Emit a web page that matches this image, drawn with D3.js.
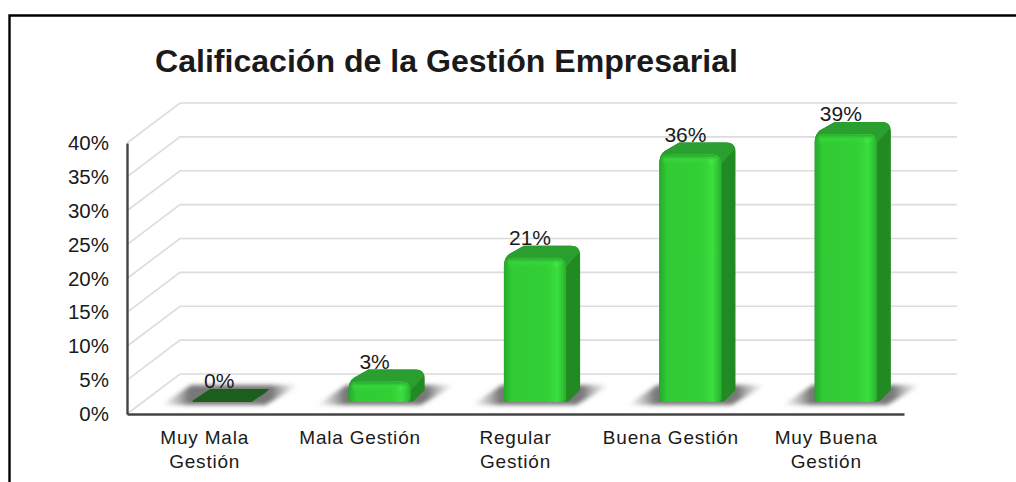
<!doctype html>
<html lang="en">
    <head>
        <meta charset="UTF-8">
        <title>Calificación de la Gestión Empresarial</title>
        <style>
            html, body { margin: 0; padding: 0; background: #fff; overflow: hidden; }
            text { font-family: "Liberation Sans", Arial, sans-serif; fill: #1a1a1a; }
        </style>
    </head>
    <body>
        <script src="https://d3js.org/d3.v7.min.js"></script>
        <script>
            var categories = [["Muy Mala", "Gestión"], ["Mala Gestión"], ["Regular", "Gestión"], ["Buena Gestión"], ["Muy Buena", "Gestión"]];
            var values = [0, 3, 21, 36, 39];
            var tickValues = [0, 5, 10, 15, 20, 25, 30, 35, 40];

            var width = 1016,
                height = 482,
                depthX = 14,
                depthY = 12;

            var svg = d3.select("body").append("svg")
                .attr("width", width)
                .attr("height", height)
                .style("display", "block");

            var defs = svg.append("defs");

            var faceGrad = defs.append("linearGradient").attr("id", "face");
            [[0, "#27a82b"], [0.12, "#30ca34"], [0.68, "#31cf35"], [0.86, "#3ade3e"], [1, "#2ab02e"]].forEach(function(s) {
                faceGrad.append("stop").attr("offset", s[0]).attr("stop-color", s[1]);
            });

            var shineGrad = defs.append("linearGradient").attr("id", "shine").attr("x1", 0).attr("x2", 0).attr("y1", 0).attr("y2", 1);
            [[0, "#2aa52e", 0.9], [0.4, "#38d83c", 0.8], [1, "#31cf35", 0]].forEach(function(s) {
                shineGrad.append("stop").attr("offset", s[0]).attr("stop-color", s[1]).attr("stop-opacity", s[2]);
            });

            var spotGrad = defs.append("radialGradient").attr("id", "spot");
            [[0, "#48e84c", 1], [1, "#3ade3e", 0]].forEach(function(s) {
                spotGrad.append("stop").attr("offset", s[0]).attr("stop-color", s[1]).attr("stop-opacity", s[2]);
            });

            var shadowGrad = defs.append("linearGradient").attr("id", "shadow");
            [[0, "#aaa", 0.05], [0.2, "#6a6a6a", 0.9], [0.8, "#6a6a6a", 0.9], [1, "#aaa", 0]].forEach(function(s) {
                shadowGrad.append("stop").attr("offset", s[0]).attr("stop-color", s[1]).attr("stop-opacity", s[2]);
            });

            defs.append("filter").attr("id", "blur")
                .attr("x", "-20%").attr("y", "-40%").attr("width", "140%").attr("height", "180%")
                .append("feGaussianBlur").attr("stdDeviation", 2);

            defs.append("filter").attr("id", "soft")
                .attr("x", "-5%").attr("y", "-5%").attr("width", "110%").attr("height", "110%")
                .append("feGaussianBlur").attr("stdDeviation", 0.5);

            // frame, open on the right and at the bottom
            svg.append("path")
                .attr("d", "M9.5," + height + "V15.5H" + width)
                .attr("fill", "none")
                .attr("stroke", "#000")
                .attr("stroke-width", 2.4);

            svg.append("text")
                .attr("x", 155)
                .attr("y", 72)
                .attr("font-size", 31)
                .attr("font-weight", "bold")
                .attr("textLength", 583)
                .attr("lengthAdjust", "spacingAndGlyphs")
                .text("Calificación de la Gestión Empresarial");

            var x = d3.scaleBand().domain(d3.range(categories.length)).range([127, 904]);
            var y = d3.scaleLinear().domain([0, 40]).range([414, 143]);
            // bars sit further back on the floor, so they get their own scale
            var yBar = d3.scaleLinear().domain([0, 40]).range([402, 127]);

            // grid: side wall + back wall
            var grid = svg.append("g").attr("fill", "none").attr("stroke", "#dcdcdc").attr("stroke-width", 1.6);
            grid.selectAll("path")
                .data(tickValues)
                .enter()
                .append("path")
                    .attr("d", function(d) {
                        return "M127," + y(d) + "L180," + (y(d) - 40) + "H957";
                    });

            var barWidth = x.bandwidth() * 0.4;

            function barLeft(i) {
                return x(i) + x.bandwidth() / 2 + 19.5 - barWidth / 2;
            }

            // floor shadows
            svg.append("g").selectAll("path")
                .data(values)
                .enter()
                .append("path")
                    .attr("fill", "url(#shadow)")
                    .attr("filter", "url(#blur)")
                    .attr("d", function(d, i) {
                        var l = barLeft(i), b = yBar(0);
                        return "M" + (l - 32) + "," + (b + 3) + "L" + (l - 2) + "," + (b - 17) +
                            "H" + (l + barWidth + 44) + "L" + (l + barWidth + 10) + "," + (b + 3) + "Z";
                    });

            var bars = svg.append("g").attr("filter", "url(#soft)").selectAll("g")
                .data(values)
                .enter()
                .append("g");

            function outline(l, t, b, r) {
                var rr = l + barWidth;
                return "M" + l + "," + (b - 2) +
                    "V" + (t + r) +
                    "Q" + l + "," + t + " " + (l + r * 0.6) + "," + (t - r * 0.4) +
                    "L" + (l + depthX + 6) + "," + (t - depthY) +
                    "H" + (rr + depthX - r) +
                    "Q" + (rr + depthX) + "," + (t - depthY) + " " + (rr + depthX) + "," + (t - depthY + r) +
                    "V" + (b - depthY) +
                    "L" + (rr + 3) + "," + (b - 1) +
                    "Q" + rr + "," + b + " " + (rr - 4) + "," + b +
                    "H" + (l + 2) +
                    "Q" + l + "," + b + " " + l + "," + (b - 2) + "Z";
            }

            function topFace(l, t, r) {
                var rr = l + barWidth;
                return "M" + l + "," + (t + r) +
                    "Q" + l + "," + t + " " + (l + r * 0.6) + "," + (t - r * 0.4) +
                    "L" + (l + depthX + 6) + "," + (t - depthY) +
                    "H" + (rr + depthX - r) +
                    "Q" + (rr + depthX - 1) + "," + (t - depthY) + " " + (rr + depthX - 1) + "," + (t - depthY + r - 2) +
                    "L" + rr + "," + (t + r) + "Z";
            }

            function frontFace(l, t, b, r) {
                var rr = l + barWidth;
                return "M" + l + "," + (b - 2) +
                    "V" + (t + r) +
                    "Q" + l + "," + t + " " + (l + r) + "," + t +
                    "H" + (rr - r) +
                    "Q" + rr + "," + t + " " + rr + "," + (t + r) +
                    "V" + (b - 4) +
                    "Q" + rr + "," + b + " " + (rr - 4) + "," + b +
                    "H" + (l + 2) +
                    "Q" + l + "," + b + " " + l + "," + (b - 2) + "Z";
            }

            bars.each(function(d, i) {
                var g = d3.select(this),
                    l = barLeft(i),
                    t = yBar(d),
                    b = yBar(0);

                if (d === 0) {
                    // empty bar: only the dark floor tile
                    g.append("path")
                        .attr("fill", "#1a5e1a")
                        .attr("d", "M" + (l - 1) + "," + (b - 1) + "L" + (l + depthX + 3) + "," + (b - depthY - 1) +
                            "H" + (l + barWidth + depthX) + "L" + (l + barWidth + depthX - 4) + "," + (b - depthY + 3) +
                            "L" + (l + barWidth - 4) + "," + b + "H" + l + "Z");
                    return;
                }

                var r = 9;
                g.append("path").attr("fill", "#238a23").attr("d", outline(l, t, b, r));
                g.append("path").attr("fill", "#2c9e2f").attr("d", topFace(l, t, r));
                g.append("path").attr("fill", "url(#face)").attr("d", frontFace(l, t, b, r));
                g.append("rect")
                    .attr("x", l + 4)
                    .attr("y", t + 0.5)
                    .attr("width", barWidth - 8)
                    .attr("height", 11)
                    .attr("rx", 4)
                    .attr("fill", "url(#shine)");
                g.append("ellipse")
                    .attr("cx", l + barWidth * 0.84)
                    .attr("cy", t + 7)
                    .attr("rx", 5)
                    .attr("ry", 5)
                    .attr("fill", "url(#spot)");
            });

            // value labels sit on top of the bars
            svg.append("g").selectAll("text")
                .data(values)
                .enter()
                .append("text")
                    .attr("x", function(d, i) { return barLeft(i) + barWidth / 2 - 5; })
                    .attr("y", function(d) { return yBar(d) - depthY + (d === 0 ? -2 : -0.5); })
                    .attr("text-anchor", "middle")
                    .attr("font-size", 21)
                    .text(function(d) { return d + "%"; });

            // axes
            var yAxis = d3.axisLeft(y)
                .tickValues(tickValues)
                .tickSize(0)
                .tickPadding(18)
                .tickFormat(function(d) { return d + "%"; });

            var yG = svg.append("g").attr("transform", "translate(127,0)").call(yAxis);
            yG.select(".domain").attr("stroke", "#444").attr("stroke-width", 2.4);
            yG.selectAll("text").attr("font-size", 20.5).attr("font-family", null);

            var xAxis = d3.axisBottom(x).tickSize(0).tickFormat("");
            var xG = svg.append("g").attr("transform", "translate(0,414)").call(xAxis);
            xG.select(".domain").attr("stroke", "#444").attr("stroke-width", 2.4);

            xG.selectAll(".tick text")
                .attr("font-family", null)
                .attr("font-size", 19)
                .attr("letter-spacing", 0.8)
                .attr("y", 0)
                .attr("dy", null)
                .each(function(d) {
                    var t = d3.select(this);
                    categories[d].forEach(function(line, k) {
                        t.append("tspan")
                            .attr("x", 0)
                            .attr("y", 30 + k * 24)
                            .text(line);
                    });
                });
        </script>
    </body>
</html>
